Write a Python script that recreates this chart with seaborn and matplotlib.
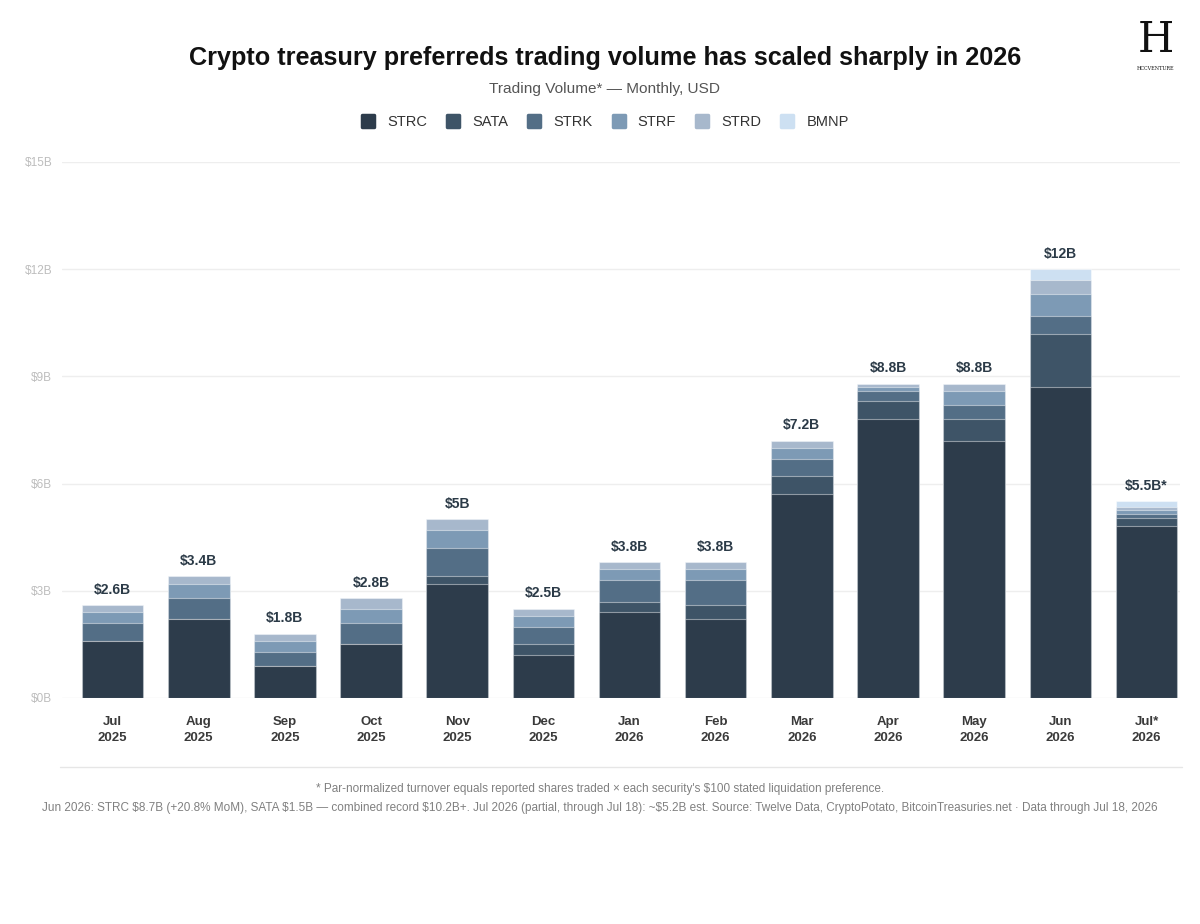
import numpy as np
import pandas as pd
import seaborn as sns
import matplotlib.pyplot as plt
from matplotlib.lines import Line2D
from matplotlib.markers import MarkerStyle

# Data (billions USD)
months = ["Jul\n2025", "Aug\n2025", "Sep\n2025", "Oct\n2025", "Nov\n2025", "Dec\n2025",
          "Jan\n2026", "Feb\n2026", "Mar\n2026", "Apr\n2026", "May\n2026", "Jun\n2026", "Jul*\n2026"]
strc = [1.6, 2.2, 0.9, 1.5, 3.2, 1.2, 2.4, 2.2, 5.7, 7.8, 7.2, 8.7, 4.8]
sata = [0.0, 0.0, 0.0, 0.0, 0.2, 0.3, 0.3, 0.4, 0.5, 0.5, 0.6, 1.5, 0.25]
strk = [0.5, 0.6, 0.4, 0.6, 0.8, 0.5, 0.6, 0.7, 0.5, 0.3, 0.4, 0.5, 0.1]
strf = [0.3, 0.4, 0.3, 0.4, 0.5, 0.3, 0.3, 0.3, 0.3, 0.1, 0.4, 0.6, 0.1]
strd = [0.2, 0.2, 0.2, 0.3, 0.3, 0.2, 0.2, 0.2, 0.2, 0.1, 0.2, 0.4, 0.1]
bmnp = [0.0, 0.0, 0.0, 0.0, 0.0, 0.0, 0.0, 0.0, 0.0, 0.0, 0.0, 0.3, 0.15]
total_labels = ["$2.6B", "$3.4B", "$1.8B", "$2.8B", "$5B", "$2.5B", "$3.8B", "$3.8B",
                "$7.2B", "$8.8B", "$8.8B", "$12B", "$5.5B*"]

series = ["STRC", "SATA", "STRK", "STRF", "STRD", "BMNP"]
colors = ["#2d3c4b", "#3e5467", "#536e86", "#7d9ab5", "#a7b8cc", "#cde0f2"]

df = pd.DataFrame({"month": months, "STRC": strc, "SATA": sata, "STRK": strk,
                   "STRF": strf, "STRD": strd, "BMNP": bmnp})
cum = df[series].cumsum(axis=1)
cum["month"] = months

sns.set_theme(style="white")
plt.rcParams["font.family"] = ["Liberation Sans", "DejaVu Sans"]
plt.rcParams["text.parse_math"] = False

fig = plt.figure(figsize=(12, 9.24), dpi=100)
ax = fig.add_axes([0.0517, 0.2446, 0.9313, 0.5801])

# stacked bars: draw cumulative totals from the top layer down
for name, col in reversed(list(zip(series, colors))):
    sns.barplot(data=cum, x="month", y=name, color=col, width=0.715,
                edgecolor=(1, 1, 1, 0.45), linewidth=0.8, saturation=1, ax=ax)

totals = cum["BMNP"].values
for i, (t, lab) in enumerate(zip(totals, total_labels)):
    ax.annotate(lab, (i, t), xytext=(0, 6), textcoords="offset points",
                ha="center", va="bottom", fontsize=10, fontweight="bold", color="#2b3a47")

ax.set_ylim(0, 15)
ax.set_xlim(-0.586, 12.384)
ax.set_yticks([0, 3, 6, 9, 12, 15])
ax.set_yticklabels(["$0B", "$3B", "$6B", "$9B", "$12B", "$15B"], fontsize=8.5, color="#bdbdbd")
ax.tick_params(axis="y", length=0, pad=7)
ax.tick_params(axis="x", length=0, pad=13)
for lbl in ax.get_xticklabels():
    lbl.set_fontweight("bold")
    lbl.set_fontsize(9.5)
    lbl.set_color("#3a3a3a")
    lbl.set_linespacing(1.4)
ax.set_xlabel("")
ax.set_ylabel("")
ax.yaxis.grid(True, color="#eeeeee", linewidth=1)
ax.set_axisbelow(True)
sns.despine(ax=ax, left=True, bottom=True)

# titles
fig.text(0.504, 0.937, "Crypto treasury preferreds trading volume has scaled sharply in 2026",
         ha="center", va="center", fontsize=18.2, fontweight="bold", color="#111111")
fig.text(0.504, 0.904, "Trading Volume* \u2014 Monthly, USD", ha="center", va="center",
         fontsize=11.1, color="#555555")

# legend with rounded square swatches
handles = [Line2D([0], [0], marker=MarkerStyle("s", joinstyle="round"), linestyle="",
                  markersize=8.5, markeredgewidth=2.5,
                  markerfacecolor=c, markeredgecolor=c) for c in colors]
fig.legend(handles, series, loc="center", bbox_to_anchor=(0.504, 0.868), ncol=6,
           frameon=False, fontsize=10.5, handlelength=1.0, handletextpad=0.8,
           columnspacing=1.3, labelcolor="#333333")

# separator and footnotes
fig.add_artist(Line2D([0.05, 0.985], [0.17, 0.17], color="#e6e6e6", linewidth=1))
fig.text(0.5, 0.146, "* Par-normalized turnover equals reported shares traded \u00d7 each security's $100 stated liquidation preference.",
         ha="center", va="center", fontsize=8.5, color="#808080")
fig.text(0.5, 0.125, "Jun 2026: STRC $8.7B (+20.8% MoM), SATA $1.5B \u2014 combined record $10.2B+. Jul 2026 (partial, through Jul 18): ~$5.2B est. Source: Twelve Data, CryptoPotato, BitcoinTreasuries.net \u00b7 Data through Jul 18, 2026",
         ha="center", va="center", fontsize=8.5, color="#808080")

# logo mark
fig.text(0.963, 0.957, "H", ha="center", va="center", fontsize=30, family="DejaVu Serif", color="#111111")
fig.text(0.963, 0.926, "HCCVENTURE", ha="center", va="center", fontsize=3.5, family="DejaVu Serif", color="#111111")

fig.savefig("out.png", dpi=100, facecolor="white")
